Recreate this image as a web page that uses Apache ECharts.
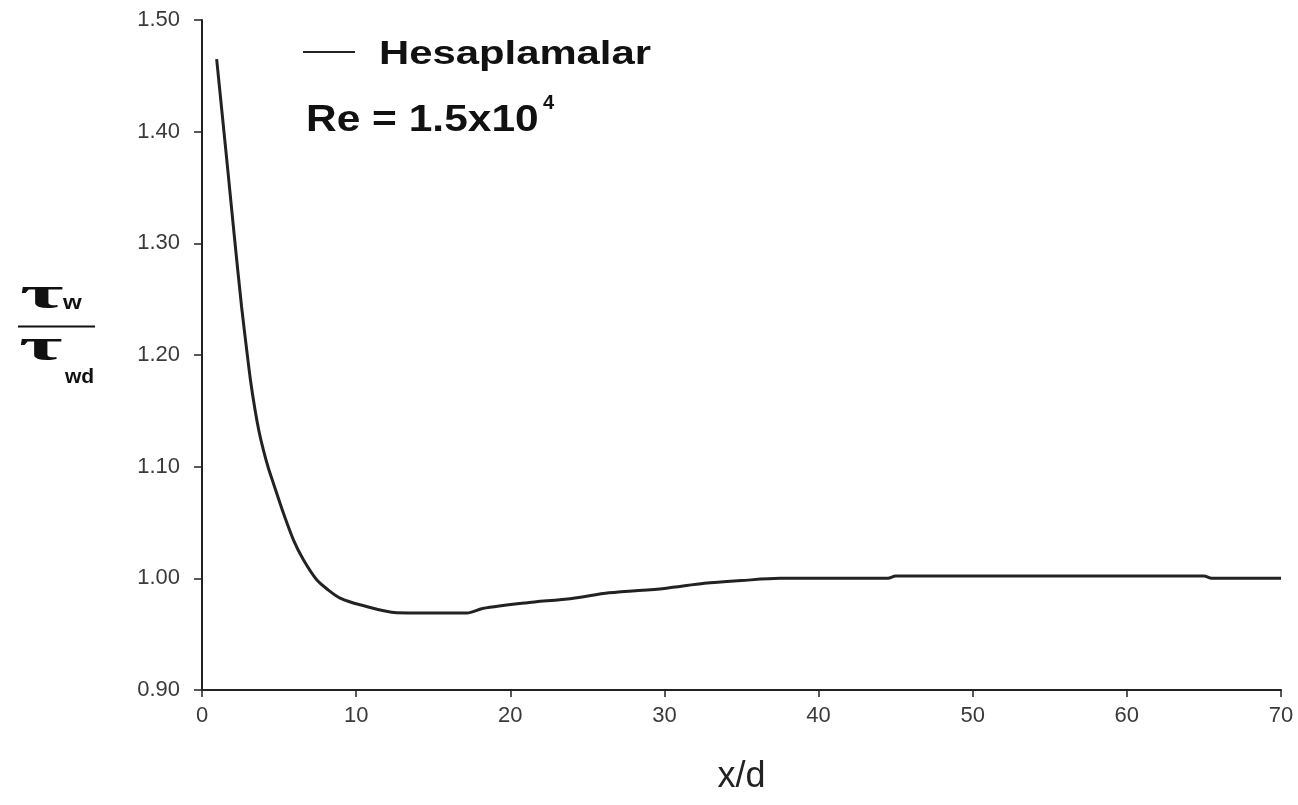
<!DOCTYPE html>
<html>
<head>
<meta charset="utf-8">
<script src="https://cdn.jsdelivr.net/npm/echarts@6/dist/echarts.min.js"></script>
<style>
  html, body { margin: 0; padding: 0; background: #fff; }
  #chart { width: 1298px; height: 805px; }
</style>
</head>
<body>
<div id="chart"></div>
<script>
// Wall shear stress ratio along the pipe (x/d), Re = 1.5x10^4
const xd = [0.95, 1.3, 1.7, 2.1, 2.57, 2.90, 3.15, 3.44, 3.7, 3.98, 4.3, 4.63, 5.28, 5.93, 6.58, 7.44, 8.2, 8.96, 10.25, 12.63, 14.5, 17.2, 18.2, 21, 24, 26.4, 30, 32.6, 35, 37.5, 40, 44.5, 45, 50, 55, 60, 65, 65.5, 70];
const tauRatio = [1.465, 1.417, 1.362, 1.306, 1.243, 1.2046, 1.177, 1.151, 1.1315, 1.115, 1.099, 1.0852, 1.0584, 1.0345, 1.0166, 0.9987, 0.9895, 0.9823, 0.9763, 0.9692, 0.969, 0.969, 0.973, 0.978, 0.982, 0.987, 0.991, 0.9955, 0.998, 1.000, 1.000, 1.000, 1.002, 1.002, 1.002, 1.002, 1.002, 1.000, 1.000];
const seriesName = 'Hesaplamalar';
const noteText = 'Re = 1.5x10';
const noteExp = '4';
const xTicks = { min: 0, max: 70, step: 10 };
const yTicks = { min: 0.9, max: 1.5, step: 0.1 };

const chart = echarts.init(document.getElementById('chart'), null, { renderer: 'canvas' });
const sans = "'Liberation Sans', Arial, sans-serif";
const serif = "'Liberation Serif', 'DejaVu Serif', serif";

chart.setOption({
  backgroundColor: '#ffffff',
  animation: false,
  grid: { left: 202, right: 17, top: 20, bottom: 115 },
  xAxis: {
    type: 'value',
    min: xTicks.min, max: xTicks.max, interval: xTicks.step,
    name: 'x/d', nameLocation: 'middle', nameGap: 69,
    nameTextStyle: { fontFamily: sans, fontSize: 36, color: '#222' },
    axisLine: { lineStyle: { color: '#222', width: 2 } },
    axisTick: { show: true, inside: false, length: 7, lineStyle: { color: '#222', width: 1.5 } },
    axisLabel: { fontFamily: sans, fontSize: 22, color: '#3a3a3a', margin: 15 },
    splitLine: { show: false }
  },
  yAxis: {
    type: 'value',
    min: yTicks.min, max: yTicks.max, interval: yTicks.step,
    axisLine: { show: true, lineStyle: { color: '#222', width: 2 } },
    axisTick: { show: true, inside: false, length: 8, lineStyle: { color: '#222', width: 1.5 } },
    axisLabel: { fontFamily: sans, fontSize: 22, color: '#3a3a3a', margin: 22, formatter: v => v.toFixed(2) },
    splitLine: { show: false }
  },
  series: [{
    name: seriesName,
    type: 'line',
    data: xd.map((x, i) => [x, tauRatio[i]]),
    smooth: 0.3,
    showSymbol: false,
    lineStyle: { color: '#222', width: 3 },
    itemStyle: { color: '#222' }
  }],
  graphic: [
    // key: line sample and series name
    {
      type: 'line', shape: { x1: 303, y1: 52, x2: 355, y2: 52 },
      style: { stroke: '#222', lineWidth: 2 }
    },
    {
      type: 'text', x: 379, y: 55, scaleX: 1.23, originX: 0, originY: 0,
      style: { text: seriesName, font: 'bold 34px ' + sans, fill: '#111', verticalAlign: 'middle', align: 'left' }
    },
    // Reynolds number note
    {
      type: 'text', x: 306, y: 121, scaleX: 1.18, originX: 0, originY: 0,
      style: { text: noteText, font: 'bold 36px ' + sans, fill: '#111', verticalAlign: 'middle', align: 'left' }
    },
    {
      type: 'text', x: 543, y: 103,
      style: { text: noteExp, font: 'bold 20px ' + sans, fill: '#111', verticalAlign: 'middle', align: 'left' }
    },
    // y-axis label: tau_w / tau_wd
    {
      type: 'text', x: 20, y: 296, scaleX: 2.05, originX: 0, originY: 0,
      style: { text: 'τ', font: 'bold 46px ' + serif, fill: '#111', verticalAlign: 'middle', align: 'left' }
    },
    {
      type: 'text', x: 63, y: 303, scaleX: 1.2, originX: 0, originY: 0,
      style: { text: 'w', font: 'bold 20px ' + sans, fill: '#111', verticalAlign: 'middle', align: 'left' }
    },
    {
      type: 'line', shape: { x1: 18, y1: 326.5, x2: 95, y2: 326.5 },
      style: { stroke: '#111', lineWidth: 2 }
    },
    {
      type: 'text', x: 19, y: 348, scaleX: 2.05, originX: 0, originY: 0,
      style: { text: 'τ', font: 'bold 46px ' + serif, fill: '#111', verticalAlign: 'middle', align: 'left' }
    },
    {
      type: 'text', x: 65, y: 377, scaleX: 1.05, originX: 0, originY: 0,
      style: { text: 'wd', font: 'bold 20px ' + sans, fill: '#111', verticalAlign: 'middle', align: 'left' }
    }
  ]
});
</script>
</body>
</html>
